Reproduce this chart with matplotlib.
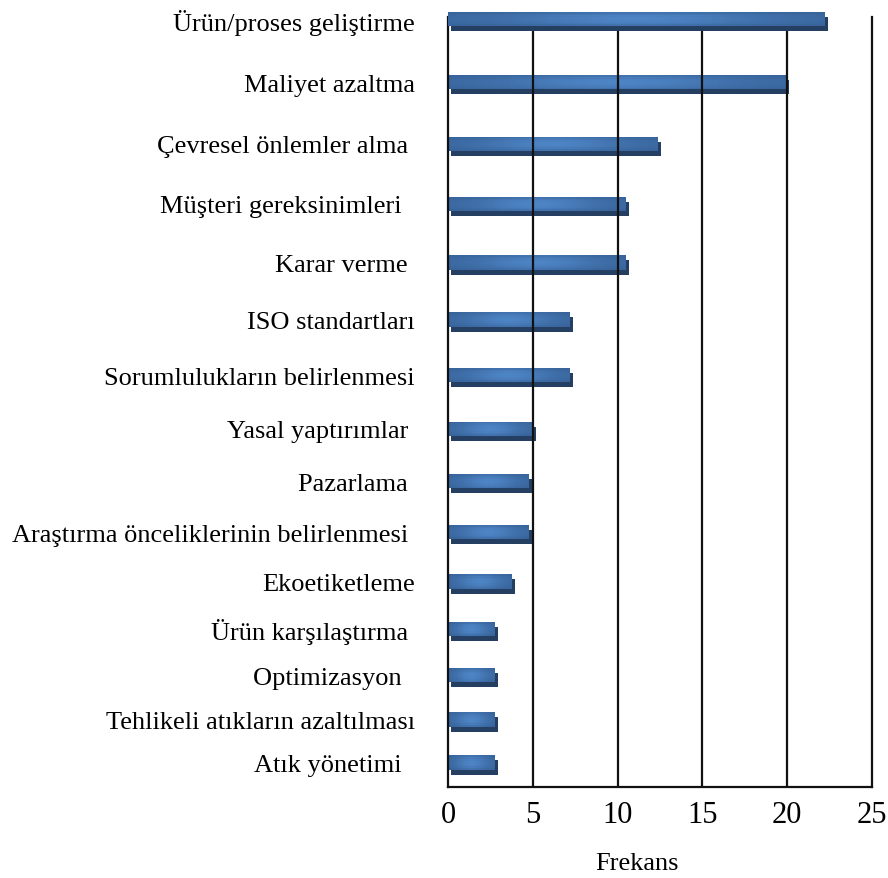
import numpy as np
import matplotlib
matplotlib.use("Agg")
import matplotlib.pyplot as plt
from matplotlib.colors import LinearSegmentedColormap
from matplotlib.transforms import ScaledTranslation

plt.rcParams["font.family"] = ["Liberation Serif", "DejaVu Serif"]

# Data
categories = [
    "Ürün/proses geliştirme",
    "Maliyet azaltma",
    "Çevresel önlemler alma ",
    "Müşteri gereksinimleri  ",
    "Karar verme ",
    "ISO standartları",
    "Sorumlulukların belirlenmesi",
    "Yasal yaptırımlar ",
    "Pazarlama ",
    "Araştırma önceliklerinin belirlenmesi ",
    "Ekoetiketleme",
    "Ürün karşılaştırma ",
    "Optimizasyon  ",
    "Tehlikeli atıkların azaltılması",
    "Atık yönetimi  ",
]
frekans = [22.2, 19.9, 12.4, 10.5, 10.5, 7.2, 7.2, 5.0, 4.8, 4.8, 3.8, 2.8, 2.8, 2.8, 2.8]
x_ticks = [0, 5, 10, 15, 20, 25]
x_label = "Frekans"

# Perspective-like category scale: rows get closer together towards the bottom
A, B = 64.0, 0.776


def persp_fwd(i):
    i = np.clip(np.asarray(i, dtype=float), -5, A / (2 * B))
    return A * i - B * i ** 2


def persp_inv(f):
    f = np.asarray(f, dtype=float)
    disc = np.clip(A * A - 4 * B * f, 0, None)
    return (A - np.sqrt(disc)) / (2 * B)


fig = plt.figure(figsize=(8.88, 8.79), dpi=100)
ax = fig.add_axes([0.5045, 0.1035, 0.4775, 0.876])
ax.set_yscale("function", functions=(persp_fwd, persp_inv))
ax.set_xlim(0, 25)
ax.set_ylim(14.58, -0.031)

idx = np.arange(len(categories))
face_px = 14.5
heights = face_px / (A - 2 * B * idx)

# Dark side/shadow of each bar, shifted right and down
shift = ScaledTranslation(3 / 100, -5 / 100, fig.dpi_scale_trans)
shadows = ax.barh(idx, frekans, height=heights, color="#253f63",
                  transform=ax.transData + shift, zorder=2)

# Front face with a soft horizontal/vertical shading
cmap = LinearSegmentedColormap.from_list("bar", ["#335c91", "#4d84c4"])
front_meshes = []
for i, v, h in zip(idx, frekans, heights):
    xe = np.linspace(0, v, 61)
    ye = np.linspace(i - h / 2, i + h / 2, 9)
    xc = (np.arange(60) + 0.5) / 60
    yc = (np.arange(8) + 0.5) / 8
    hx = np.exp(-((xc - 0.5) / 0.33) ** 2)
    vy = 1 - 0.55 * ((yc - 0.5) * 2) ** 2
    C = np.outer(vy, 0.25 + 0.75 * hx)
    m = ax.pcolormesh(xe, ye, C, cmap=cmap, vmin=0, vmax=1,
                      shading="flat", zorder=2.05)
    front_meshes.append(m)

# The first bar sits in front of the wall lines
shadows.patches[0].set_zorder(3)
shadows.patches[0].set_clip_on(False)
front_meshes[0].set_zorder(3.05)
front_meshes[0].set_clip_on(False)

# Vertical wall lines
for xv in x_ticks[1:-1]:
    ax.axvline(xv, color="#111111", lw=1.6, zorder=2.6)

for side in ("left", "bottom", "right"):
    ax.spines[side].set_color("#111111")
    ax.spines[side].set_linewidth(1.6)
    ax.spines[side].set_zorder(2.6)
ax.spines["top"].set_visible(False)

ax.set_xticks(x_ticks)
ax.set_xticklabels([str(t) for t in x_ticks])
ax.tick_params(axis="x", length=0, pad=9, labelsize=22)
ax.set_yticks(idx)
ax.set_yticklabels(categories)
ax.tick_params(axis="y", length=0, pad=24, labelsize=19)
ax.yaxis.set_minor_locator(matplotlib.ticker.NullLocator())

ax.set_xlabel(x_label, fontsize=19)
ax.xaxis.set_label_coords(0.4458, -0.0987)
ax.xaxis.label.set_va("center")

fig.savefig("out.png", dpi=100)
